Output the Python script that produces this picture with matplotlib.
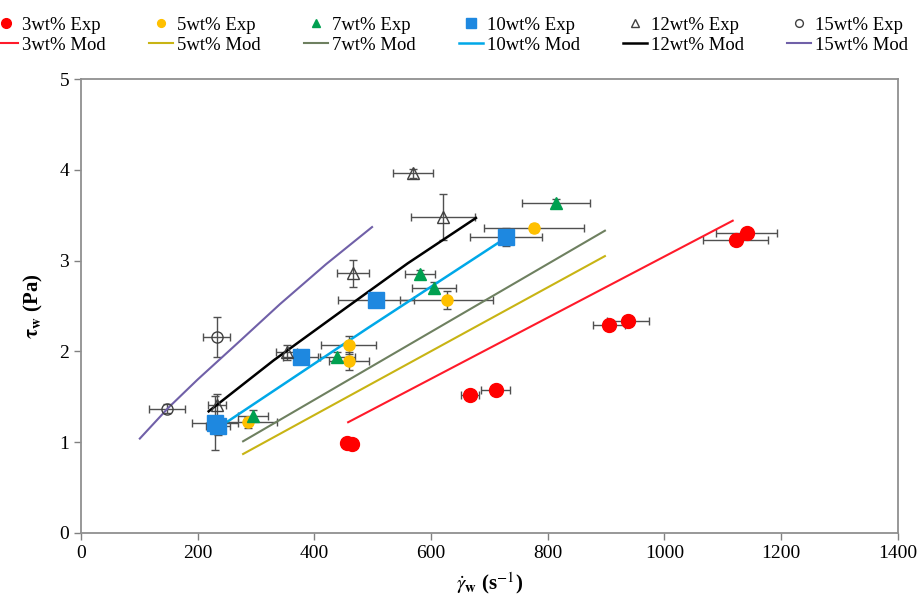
import matplotlib.pyplot as plt

plt.rcParams['font.family'] = 'Liberation Serif'
plt.rcParams['mathtext.fontset'] = 'stix'

# experimental data: shear rate, wall stress, x error, y error
x3 = [456, 465, 667, 711, 905, 937, 1122, 1141]
y3 = [0.99, 0.98, 1.52, 1.57, 2.29, 2.33, 3.23, 3.30]
xe3 = [8, 8, 15, 25, 27, 36, 56, 52]
ye3 = [0.03, 0.03, 0.03, 0.03, 0.03, 0.03, 0.04, 0.04]

x5 = [286, 459, 459, 627, 776]
y5 = [1.22, 1.89, 2.07, 2.57, 3.36]
xe5 = [50, 34, 47, 80, 86]
ye5 = [0.06, 0.1, 0.1, 0.1, 0.04]

x7 = [295, 439, 581, 605, 814]
y7 = [1.29, 1.94, 2.85, 2.70, 3.63]
xe7 = [25, 30, 25, 38, 58]
ye7 = [0.06, 0.05, 0.05, 0.06, 0.05]

x10 = [230, 235, 377, 505, 728]
y10 = [1.21, 1.18, 1.94, 2.57, 3.26]
xe10 = [40, 20, 30, 65, 62]
ye10 = [0.3, 0.1, 0.05, 0.05, 0.1]

x12 = [233, 353, 466, 569, 620]
y12 = [1.41, 1.99, 2.86, 3.96, 3.48]
xe12 = [15, 18, 27, 34, 55]
ye12 = [0.12, 0.08, 0.15, 0.05, 0.25]

x15 = [147, 233]
y15 = [1.37, 2.16]
xe15 = [31, 23]
ye15 = [0.05, 0.22]

# model curves
mx3 = [458, 1117]
my3 = [1.22, 3.44]
mx5 = [278, 898]
my5 = [0.87, 3.05]
mx7 = [278, 898]
my7 = [1.01, 3.33]
mx10 = [252, 490, 728]
my10 = [1.23, 2.25, 3.25]
mx12 = [219, 330, 450, 560, 677]
my12 = [1.34, 1.90, 2.46, 2.97, 3.47]
mx15 = [101, 150, 200, 270, 341, 420, 499]
my15 = [1.04, 1.38, 1.69, 2.10, 2.52, 2.96, 3.37]

fig = plt.figure(figsize=(9.19, 6.06), dpi=100)
ax = fig.add_axes([0.088, 0.1205, 0.889, 0.749])

eb = dict(fmt='none', ecolor='#505050', elinewidth=1, capsize=3, capthick=1, zorder=2)
for xs, ys, xe, ye in [(x3, y3, xe3, ye3), (x5, y5, xe5, ye5), (x7, y7, xe7, ye7),
                       (x10, y10, xe10, ye10), (x12, y12, xe12, ye12), (x15, y15, xe15, ye15)]:
    ax.errorbar(xs, ys, xerr=xe, yerr=ye, **eb)

h = []
h.append(ax.plot(x3, y3, 'o', color='#FF0000', ms=10, ls='none', label='3wt% Exp', zorder=4)[0])
h.append(ax.plot(mx3, my3, '-', color='#FF1A2A', lw=1.5, label='3wt% Mod', zorder=3)[0])
h.append(ax.plot(x5, y5, 'o', color='#FFC000', ms=8, ls='none', label='5wt% Exp', zorder=4)[0])
h.append(ax.plot(mx5, my5, '-', color='#C8B414', lw=1.5, label='5wt% Mod', zorder=3)[0])
h.append(ax.plot(x7, y7, '^', color='#00A050', ms=9, ls='none', label='7wt% Exp', zorder=4)[0])
h.append(ax.plot(mx7, my7, '-', color='#6E8060', lw=1.5, label='7wt% Mod', zorder=3)[0])
h.append(ax.plot(x10, y10, 's', color='#1E88E0', ms=11, ls='none', label='10wt% Exp', zorder=4)[0])
h.append(ax.plot(mx10, my10, '-', color='#00A8E8', lw=1.8, label='10wt% Mod', zorder=3)[0])
h.append(ax.plot(x12, y12, '^', mfc='none', mec='#404040', ms=9, ls='none', label='12wt% Exp', zorder=4)[0])
h.append(ax.plot(mx12, my12, '-', color='black', lw=1.8, label='12wt% Mod', zorder=3)[0])
h.append(ax.plot(x15, y15, 'o', mfc='none', mec='#404040', ms=8, ls='none', label='15wt% Exp', zorder=4)[0])
h.append(ax.plot(mx15, my15, '-', color='#7060A8', lw=1.5, label='15wt% Mod', zorder=3)[0])

ax.set_xlim(0, 1400)
ax.set_ylim(0, 5)
ax.set_xticks(range(0, 1401, 200))
ax.set_yticks(range(0, 6))
ax.tick_params(direction='out', length=5, width=1, color='#808080', labelsize=14)
for s in ax.spines.values():
    s.set_color('#909090')
    s.set_linewidth(1.3)

ax.set_xlabel(r'$\dot{\gamma}_\mathbf{w}$ (s$^{-1}$)', fontsize=15, fontweight='bold', labelpad=6)
ax.set_ylabel(r'$\mathbf{\tau_w}$ (Pa)', fontsize=15, fontweight='bold', labelpad=10)

fig.legend(handles=h, loc='upper left', bbox_to_anchor=(-0.025, 1.0), ncol=6,
           frameon=False, fontsize=13.5, handlelength=1.3, handletextpad=0.2,
           columnspacing=2.3, labelspacing=0.15, markerscale=0.7)

fig.savefig('out.png', dpi=100)
